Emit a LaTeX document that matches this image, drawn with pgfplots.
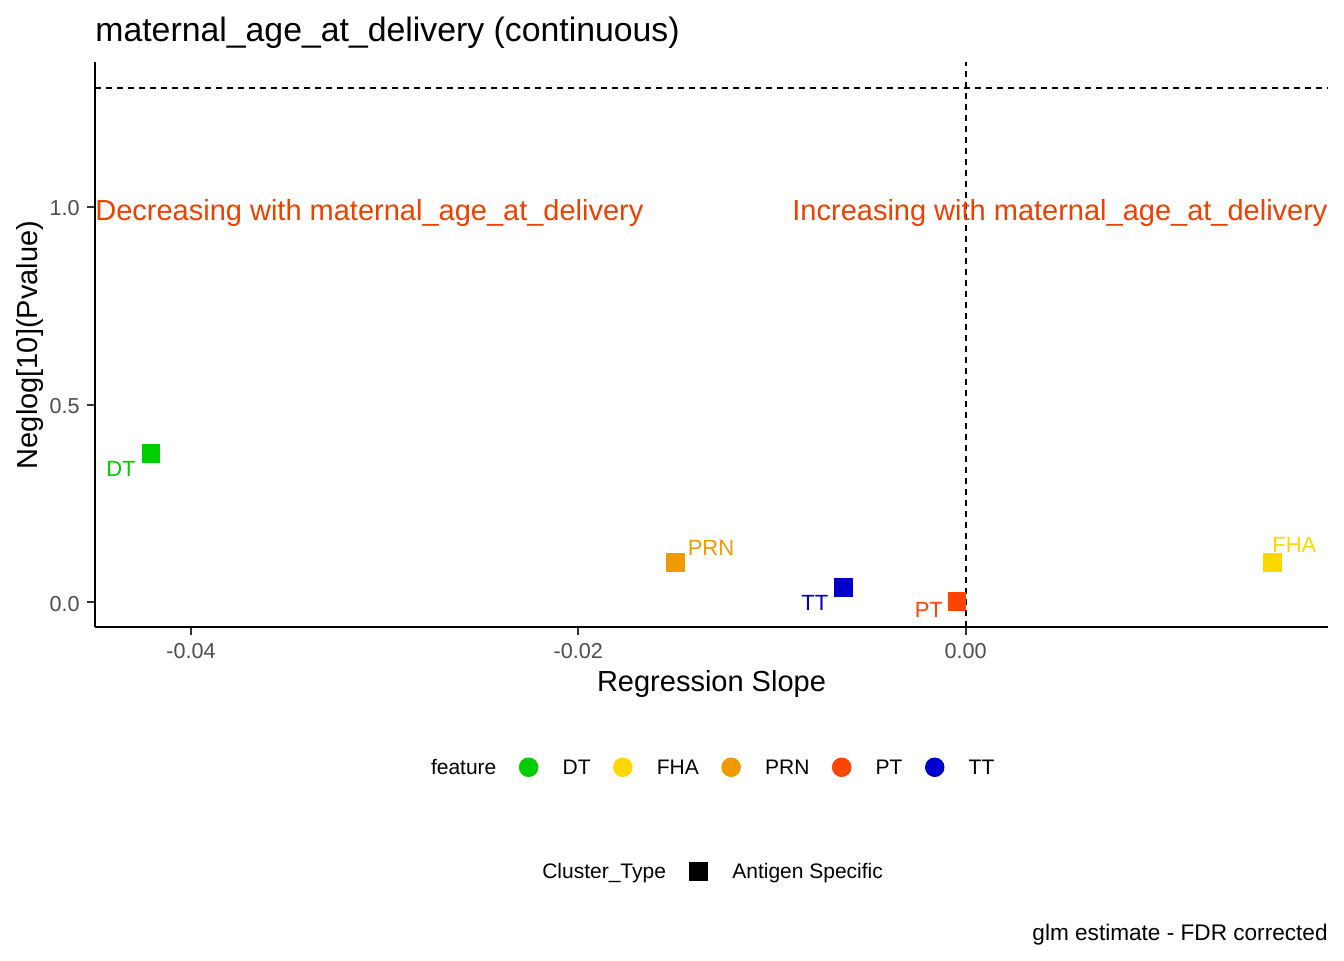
\documentclass[border=0pt]{standalone}
\usepackage{fontspec}
\setmainfont{Liberation Sans}
\usepackage{pgfplots}
\pgfplotsset{compat=1.18}
\definecolor{green3}{RGB}{0,205,0}
\definecolor{gold}{RGB}{255,215,0}
\definecolor{orange2}{RGB}{238,154,0}
\definecolor{orangered}{RGB}{255,69,0}
\definecolor{blue3}{RGB}{0,0,205}
\definecolor{annot}{RGB}{238,64,0}
\definecolor{grey30}{RGB}{77,77,77}
\definecolor{grey20}{RGB}{51,51,51}
\newcommand\fs[1]{\fontsize{#1}{#1}\selectfont}
\begin{document}
\begin{tikzpicture}
\useasboundingbox (-47.5pt,-166.5pt) rectangle (624.5pt,313.5pt);
\begin{axis}[
  at={(0,0)}, anchor=south west,
  width=616.5pt, height=282.5pt, scale only axis,
  xmin=-0.044957, xmax=0.018707, ymin=-0.0624, ymax=1.3658,
  clip=false,
  axis x line*=bottom, axis y line*=left,
  axis line style={-, line width=1pt, black},
  scaled x ticks=false, scaled y ticks=false,
  xtick={-0.04,-0.02,0}, xticklabels={-0.04,-0.02,0.00},
  ytick={0,0.5,1}, yticklabels={0.0,0.5,1.0},
  tick align=outside, major tick length=3.85pt,
  tick style={line width=1pt, grey20},
  /pgf/number format/assume math mode=true,
  ticklabel style={font=\fs{10.8}, text=grey30, inner sep=0pt},
  xticklabel style={anchor=north, yshift=-4.3pt},
  yticklabel style={anchor=east, xshift=-3.65pt, yshift=-0.9pt},
  legend style={at={(0.27251,-0.2490)}, anchor=west, draw=none, fill=none,
    inner sep=0pt, outer sep=0pt, font=\fs{10.5},
    nodes={inner sep=0pt, anchor=base west}},
  legend columns=-1,
  /tikz/every even column/.append style={column sep=11.25pt},
  /tikz/column 2/.append style={column sep=12.1pt},
]
% data points (Regression Slope, Neglog10 P)
\addplot[only marks, mark=square*, mark size=4.4pt, green3, forget plot] coordinates {(-0.04208,0.3761)};
\addplot[only marks, mark=square*, mark size=4.4pt, orange2, forget plot] coordinates {(-0.01498,0.1014)};
\addplot[only marks, mark=square*, mark size=4.4pt, blue3, forget plot] coordinates {(-0.00632,0.0374)};
\addplot[only marks, mark=square*, mark size=4.4pt, orangered, forget plot] coordinates {(-0.00046,0.0020)};
\addplot[only marks, mark=square*, mark size=4.4pt, gold, forget plot] coordinates {(0.01583,0.1014)};
% reference lines
\addplot[black, line width=1pt, dash pattern=on 2.9pt off 2.6pt, forget plot] coordinates {(-0.044957,1.30103) (0.018707,1.30103)};
\addplot[black, line width=1pt, dash pattern=on 2.9pt off 2.6pt, forget plot] coordinates {(0,-0.0624) (0,1.3658)};
% point labels
\node[anchor=base east, inner sep=0pt, font=\fs{11}, text=green3] at (axis cs:-0.04284,0.3175) {DT};
\node[anchor=base west, inner sep=0pt, font=\fs{11}, text=orange2] at (axis cs:-0.01437,0.1178) {PRN};
\node[anchor=base east, inner sep=0pt, font=\fs{11}, text=blue3] at (axis cs:-0.007075,-0.0195) {TT};
\node[anchor=base east, inner sep=0pt, font=\fs{11}, text=orangered] at (axis cs:-0.001157,-0.0379) {PT};
\node[anchor=base west, inner sep=0pt, font=\fs{11}, text=gold] at (axis cs:0.01581,0.1264) {FHA};
% annotations
\node[anchor=base west, inner sep=0pt, font=\fs{14.5}, text=annot] at (axis cs:-0.044957,0.9646) {Decreasing with maternal\_age\_at\_delivery};
\node[anchor=base east, inner sep=0pt, font=\fs{14.5}, text=annot] at (axis cs:0.018707,0.9646) {Increasing with maternal\_age\_at\_delivery};
% legend: feature
\addlegendimage{empty legend}
\addlegendentry{feature}
\addlegendimage{legend image code/.code={\fill[green3] (0pt,3.8pt) circle[radius=4.67pt]; \path[draw=none,fill=none] (-4.67pt,0pt) -- (17pt,0pt);}}
\addlegendentry{DT}
\addlegendimage{legend image code/.code={\fill[gold] (0pt,3.8pt) circle[radius=4.67pt]; \path[draw=none,fill=none] (-4.67pt,0pt) -- (17pt,0pt);}}
\addlegendentry{FHA}
\addlegendimage{legend image code/.code={\fill[orange2] (0pt,3.8pt) circle[radius=4.67pt]; \path[draw=none,fill=none] (-4.67pt,0pt) -- (17pt,0pt);}}
\addlegendentry{PRN}
\addlegendimage{legend image code/.code={\fill[orangered] (0pt,3.8pt) circle[radius=4.67pt]; \path[draw=none,fill=none] (-4.67pt,0pt) -- (17pt,0pt);}}
\addlegendentry{PT}
\addlegendimage{legend image code/.code={\fill[blue3] (0pt,3.8pt) circle[radius=4.67pt]; \path[draw=none,fill=none] (-4.67pt,0pt) -- (17pt,0pt);}}
\addlegendentry{TT}
\end{axis}
\begin{axis}[
  at={(0,0)}, anchor=south west,
  width=616.5pt, height=282.5pt, scale only axis,
  hide axis, xmin=0, xmax=1, ymin=0, ymax=1,
  legend style={at={(0.36277,-0.4336)}, anchor=west, draw=none, fill=none,
    inner sep=0pt, outer sep=0pt, font=\fs{10.5},
    nodes={inner sep=0pt, anchor=base west}},
  legend columns=-1,
  /tikz/every even column/.append style={column sep=11.25pt},
]
\addlegendimage{empty legend}
\addlegendentry{Cluster\_Type}
\addlegendimage{legend image code/.code={\fill[black] (-4.6pt,-0.95pt) rectangle (4.6pt,8.25pt); \path[draw=none,fill=none] (-4.6pt,0pt) -- (17.1pt,0pt);}}
\addlegendentry{Antigen Specific}
\end{axis}
% titles and labels
\node[anchor=base west, inner sep=0pt, font=\fs{16.9}] at (0pt,292.5pt) {maternal\_age\_at\_delivery (continuous)};
\node[anchor=base, inner sep=0pt, font=\fs{14.5}] at (308.25pt,-32pt) {Regression Slope};
\node[anchor=base, inner sep=0pt, font=\fs{14.5}, rotate=90] at (-29pt,141pt) {Neglog[10](Pvalue)};
\node[anchor=base east, inner sep=0pt, font=\fs{11.3}] at (616.5pt,-156.5pt) {glm estimate - FDR corrected};
\end{tikzpicture}
\end{document}
